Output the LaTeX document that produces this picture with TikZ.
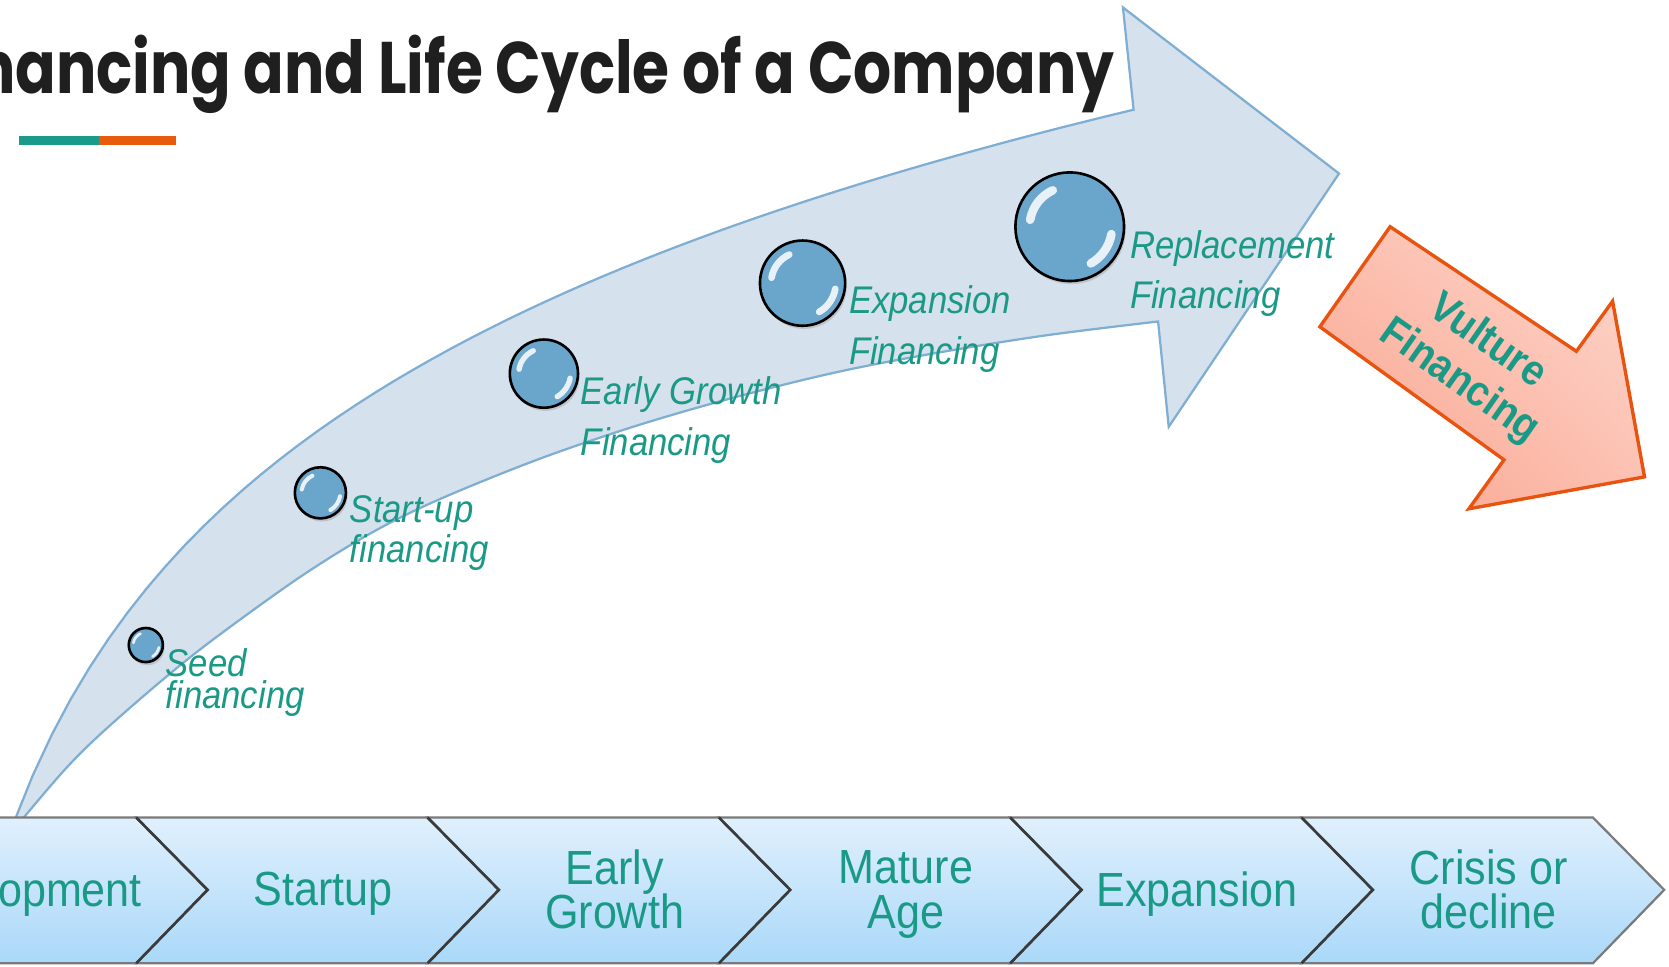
\documentclass[tikz,border=0pt]{standalone}
\usepackage{fontspec}
\setmainfont{Liberation Sans}[FakeStretch=0.9]
\newfontfamily\headfont{Poppins}[FakeStretch=0.82]
\definecolor{lcteal}{HTML}{1A9A86}
\definecolor{barteal}{HTML}{1A9A89}
\definecolor{barorange}{HTML}{E95B0C}
\definecolor{arrowfill}{HTML}{D5E1EC}
\definecolor{arrowline}{HTML}{7FAED3}
\definecolor{bubbleblue}{HTML}{6AA5CB}
\definecolor{chevtop}{HTML}{E0F0FD}
\definecolor{chevbot}{HTML}{AAD8F9}
\definecolor{chevline}{HTML}{7A7A7A}
\definecolor{notchline}{HTML}{3A3A3A}
\definecolor{vultureline}{HTML}{E8540F}
\definecolor{pinklight}{HTML}{FDD8CE}
\definecolor{pinkmid}{HTML}{FCC0B0}
\definecolor{salmon}{HTML}{FAA08A}
\usetikzlibrary{positioning,shadings}
\tikzset{
  titletext/.style={text=black!88, inner sep=0, font=\headfont\bfseries\fontsize{19.5}{22}\selectfont},
  stagetext/.style={text=lcteal, align=center, inner sep=0, font=\fontsize{12.8}{12}\selectfont,
    execute at begin node=\vphantom{Ag}, execute at end node=\vphantom{Ag}},
  finlabel/.style={text=lcteal, align=left, anchor=west, inner sep=0, font=\itshape\fontsize{10.3}{13.6}\selectfont},
  finlabeltight/.style={finlabel, font=\itshape\fontsize{10.3}{8.6}\selectfont},
  bubble/.style={circle, draw=black, line width=0.7pt, fill=bubbleblue, inner sep=0},
  glint/.style={white, line cap=round, opacity=0.85},
  vulturetext/.style={text=lcteal, align=center, inner sep=0, font=\bfseries\fontsize{11.5}{13}\selectfont}
}
\begin{document}
\begin{tikzpicture}[x=0.01cm,y=-0.01cm]
\useasboundingbox (0,0) rectangle (1568,908);
\clip (0,0) rectangle (1568,908);
% title and bar
\node[titletext, anchor=base east] (title) at (1048,88) {Financing and Life Cycle of a Company};
\fill[barteal] (18,128) rectangle (93,136);
\fill[barorange] (93,128) rectangle (165,136);
% big curved arrow
\filldraw[fill=arrowfill, draw=arrowline, line width=0.6pt]
  plot[domain=13:1065, samples=60] (\x,{2056.4-277*ln(\x+90)})
  -- (1055,7) -- (1258,163) -- (1098,401) -- (1088,302)
  -- plot[smooth, tension=0.55] coordinates {(1088,302) (983,315) (883,331) (789,349) (695,372) (601,399) (507,431)
     (413,469) (350,500) (282,542) (200,601) (150,641) (94,690) (60,724) (19,772)}
  -- cycle;
% vulture arrow
\shade[upper left=pinkmid, upper right=pinklight, lower left=salmon, lower right=pinkmid,
  draw=vultureline, line width=0.9pt]
  (1306,213) -- (1481,330) -- (1515,283) -- (1545,448) -- (1380,478) -- (1413,432) -- (1240,307) -- cycle;
\node[vulturetext, rotate=-35] (vulture) at (1384,340) {Vulture\\Financing};
% bubbles
\foreach \name/\x/\y/\r in {seed/137/606/16, startup/301/463/24, early/511/351/32, expansion/754/266/40, replacement/1005/213/51}{
  \fill[black!35, opacity=0.5] (\x+1.5,\y+3) circle[radius=\r];
  \node[bubble, minimum size=\r*0.02cm] (b-\name) at (\x,\y) {};
  \draw[glint, line width=\r*0.045pt] (\x,\y) ++(190:0.74*\r) arc[start angle=190, end angle=245, radius=0.74*\r];
  \draw[glint, line width=\r*0.045pt] (\x,\y) ++(10:0.78*\r) arc[start angle=10, end angle=60, radius=0.78*\r];
}
\node[finlabeltight] (l-seed) at (155,641) {Seed\\financing};
\node[finlabeltight] (l-startup) at (328,501) {Start-up\\financing};
\node[finlabel] (l-early) at (545,395) {Early Growth\\Financing};
\node[finlabel] (l-expansion) at (797,309) {Expansion\\Financing};
\node[finlabel] (l-replacement) at (1061,257) {Replacement\\Financing};
% chevron band
\foreach \i [evaluate=\i as \bx using 128+(\i-1)*273.7] in {0,...,5}{
  \shade[top color=chevtop, bottom color=chevbot, draw=chevline, line width=0.6pt]
    (\bx,768) -- ++(273.7,0) -- ++(67,68) -- ++(-67,69) -- ++(-273.7,0) -- ++(67,-69) -- cycle;
}
\foreach \i [evaluate=\i as \bx using 128+(\i-1)*273.7] in {1,...,5}{
  \draw[notchline, line width=0.7pt] (\bx,768) -- ++(67,68) -- ++(-67,69);
}
\foreach \name/\txt [count=\k from 0] in {dev/Development, startup/Startup, early/Early\\Growth, mature/Mature\\Age, expansion/Expansion, crisis/Crisis or\\decline}{
  \node[stagetext] (st-\name) at ({30+\k*273.7-(\k==0)*16},840) {\txt};
}
\end{tikzpicture}
\end{document}
